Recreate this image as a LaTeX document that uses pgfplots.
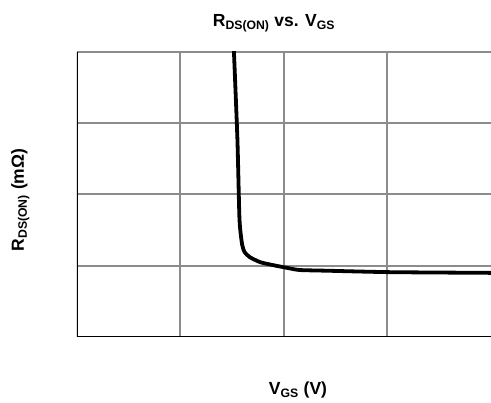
\documentclass[border=0pt]{standalone}
\usepackage{fontspec}
\setmainfont{Liberation Sans}
\usepackage{pgfplots}
\pgfplotsset{compat=1.18}
\begin{document}
\begin{tikzpicture}[x=1pt,y=1pt]
\useasboundingbox (0,0) rectangle (491,403);
\begin{axis}[
    at={(77pt,66pt)}, anchor=south west,
    scale only axis,
    width=414pt, height=285pt,
    xmin=0, xmax=4, ymin=0, ymax=4,
    xtick={1,2,3}, ytick={1,2,3,4},
    xticklabels={}, yticklabels={},
    major tick length=0pt,
    grid=major,
    grid style={draw=gray!90, line width=2pt},
    axis line style={draw=none},
    clip=true,
]
\addplot[black, line width=3.8pt, smooth, tension=0.35] coordinates {
    (1.515,4.05) (1.55,2.77) (1.57,1.65) (1.595,1.30) (1.62,1.19)
    (1.67,1.12) (1.77,1.05) (1.89,1.01) (2.03,0.97) (2.15,0.94)
    (2.42,0.93) (3.02,0.91) (4.0,0.90)
};
\draw[black, line width=2.6pt] (axis cs:0,4) -- (axis cs:0,0) -- (axis cs:4,0);
\end{axis}
\node[font=\fontsize{17.5}{20}\selectfont\bfseries, anchor=base] at (274,376)
    {R\textsubscript{DS(ON)} vs. V\textsubscript{GS}};
\node[font=\fontsize{17.5}{20}\selectfont\bfseries, anchor=base] at (298,8)
    {V\textsubscript{GS} (V)};
\node[font=\fontsize{17.5}{20}\selectfont\bfseries, anchor=base, rotate=90] at (24,203)
    {R\textsubscript{DS(ON)} (mΩ)};
\end{tikzpicture}
\end{document}
